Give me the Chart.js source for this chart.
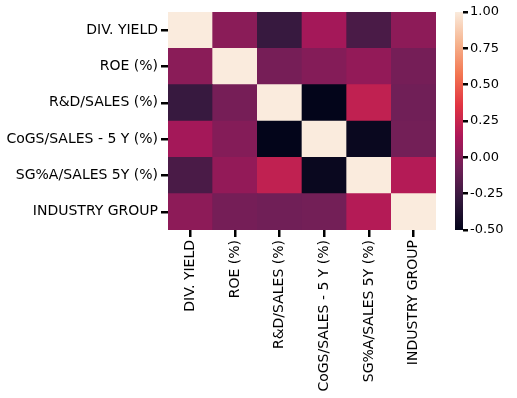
<!DOCTYPE html>
<html>
<head>
<meta charset="utf-8">
<script src="https://cdn.jsdelivr.net/npm/chart.js@4.4.1/dist/chart.umd.min.js"></script>
<style>
    body { margin: 0; background: #fff; }
    .chart { width: 517px; height: 398px; }
</style>
</head>
<body>
<div class="chart"><canvas id="myChart" width="517" height="398"></canvas></div>
<script>
'use strict'

// labels, top row first
const gLabels = ['DIV. YIELD', 'ROE (%)', 'R&D/SALES (%)', 'CoGS/SALES - 5 Y (%)', 'SG%A/SALES 5Y (%)', 'INDUSTRY GROUP']

// correlation rows
const gDivYield = [1.00, 0.02, -0.28, 0.11, -0.21, 0.03]
const gRoe = [0.02, 1.00, -0.05, 0.00, 0.05, -0.055]
const gRnd = [-0.28, -0.05, 1.00, -0.50, 0.22, -0.07]
const gCogs = [0.11, 0.00, -0.50, 1.00, -0.47, -0.06]
const gSga = [-0.21, 0.05, 0.22, -0.47, 1.00, 0.17]
const gIndustry = [0.03, -0.055, -0.07, -0.06, 0.17, 1.00]

const gRows = [gDivYield, gRoe, gRnd, gCogs, gSga, gIndustry]
const gCbTicks = [-0.5, -0.25, 0, 0.25, 0.5, 0.75, 1]

const VMIN = -0.5
const VMAX = 1.0

// seaborn "rocket"
const ROCKET = ['#03051A', '#35193E', '#701F57', '#AD1759', '#E13342', '#F37651', '#F6B48F', '#FAEBDD']

function hexToRgb(hex) {
    return [1, 3, 5].map(i => parseInt(hex.substr(i, 2), 16))
}

function getColor(val) {
    let t = (val - VMIN) / (VMAX - VMIN)
    t = Math.max(0, Math.min(1, t))
    const pos = [0, 1 / 7, 2 / 7, 3 / 7, 4 / 7, 5 / 7, 6 / 7, 1]
    let i = 0
    while (i < pos.length - 2 && t > pos[i + 1]) i++
    const f = (t - pos[i]) / (pos[i + 1] - pos[i])
    const c1 = hexToRgb(ROCKET[i])
    const c2 = hexToRgb(ROCKET[i + 1])
    const c = c1.map((v, idx) => Math.round(v + (c2[idx] - v) * f))
    return `rgb(${c[0]},${c[1]},${c[2]})`
}

const colorbarPlugin = {
    id: 'colorbar',
    afterDraw(chart) {
        const ctx = chart.ctx
        const cb = chart.scales.cb
        const spacer = chart.scales.spacer
        const yTop = cb.getPixelForValue(VMAX)
        const yBot = cb.getPixelForValue(VMIN)
        const x = spacer.right - 8
        const grad = ctx.createLinearGradient(0, yBot, 0, yTop)
        ROCKET.forEach((c, i) => grad.addColorStop(i / (ROCKET.length - 1), c))
        ctx.save()
        ctx.fillStyle = grad
        ctx.fillRect(x, yTop, 8, yBot - yTop)
        ctx.restore()
    }
}

function onInit() {
    const ctx = document.getElementById('myChart')
    const font = { family: 'DejaVu Sans', size: 14 }
    const cbFont = { family: 'DejaVu Sans', size: 13 }
    // stacked bars: bottom dataset is the last row
    const datasets = gRows.slice().reverse().map((row, idx) => ({
        label: gLabels[gRows.length - 1 - idx],
        data: row.map(() => 1),
        backgroundColor: row.map(val => getColor(val)),
        borderWidth: 0,
        barPercentage: 1,
        categoryPercentage: 1
    }))

    new Chart(ctx, {
        type: 'bar',
        data: { labels: gLabels, datasets },
        plugins: [colorbarPlugin],
        options: {
            responsive: false,
            animation: false,
            layout: { padding: { top: 12, left: 0, right: 0, bottom: 0 } },
            plugins: { legend: { display: false }, tooltip: { enabled: false } },
            scales: {
                x: {
                    stacked: true,
                    grid: { drawOnChartArea: false, offset: false, color: '#000', lineWidth: 2.5, tickLength: 7 },
                    border: { display: false },
                    ticks: { color: '#000', font, minRotation: 90, maxRotation: 90, padding: 3 },
                    afterFit: scale => { scale.height = 168 }
                },
                y: {
                    stacked: true,
                    min: 0,
                    max: 6,
                    grid: { drawOnChartArea: false, color: '#000', lineWidth: 2.5, tickLength: 7 },
                    border: { display: false },
                    ticks: {
                        color: '#000', font, padding: 3,
                        callback: val => gLabels[gLabels.length - 1 - Math.floor(val)]
                    },
                    afterBuildTicks: scale => {
                        scale.ticks = gLabels.map((l, i) => ({ value: i + 0.5 }))
                    },
                    afterFit: scale => { scale.width = 168 }
                },
                spacer: {
                    type: 'linear',
                    position: 'right',
                    display: true,
                    weight: 0,
                    grid: { display: false },
                    border: { display: false },
                    ticks: { display: false },
                    afterFit: scale => { scale.width = 27 }
                },
                cb: {
                    type: 'linear',
                    position: 'right',
                    display: true,
                    weight: 1,
                    min: VMIN,
                    max: VMAX,
                    grid: { drawOnChartArea: false, color: '#000', lineWidth: 2.5, tickLength: 5 },
                    border: { display: false },
                    ticks: {
                        color: '#000', font: cbFont, padding: 2,
                        callback: val => val.toFixed(2)
                    },
                    afterBuildTicks: scale => {
                        scale.ticks = gCbTicks.map(v => ({ value: v }))
                    },
                    afterFit: scale => { scale.width = 54 }
                }
            }
        }
    })
}

onInit()
</script>
</body>
</html>
